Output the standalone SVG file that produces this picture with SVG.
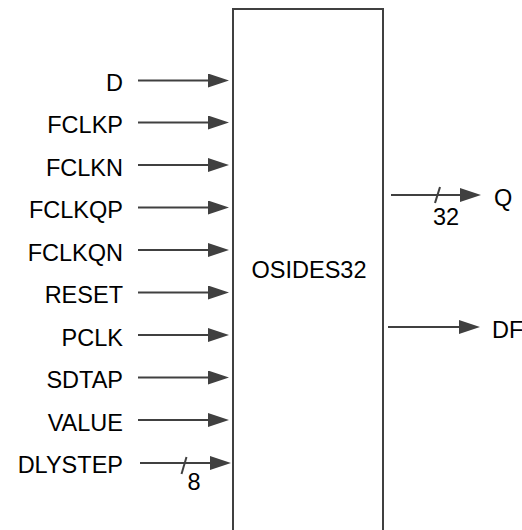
<svg xmlns="http://www.w3.org/2000/svg" width="522" height="530" viewBox="0 0 522 530">
<style>
text{font-family:"Liberation Sans",Arial,sans-serif;font-size:23.5px;fill:#000}
.lbl{text-anchor:end}
.w{stroke:#404040;stroke-width:2;fill:none}
.ah{fill:#404040}
</style>
<defs>
<marker id="arr" viewBox="0 0 21 14" refX="1" refY="7" markerWidth="21" markerHeight="14" markerUnits="userSpaceOnUse" orient="auto">
<path class="ah" d="M0,0 L21,7 L0,14 Z"/>
</marker>
</defs>
<rect width="522" height="530" fill="#fff"/>
<g id="OSIDES32">
<rect x="233" y="9" width="150" height="540" fill="#fff" stroke="#404040" stroke-width="2"/>
<text x="309" y="278" text-anchor="middle">OSIDES32</text>
</g>
<g id="labels">
<text class="lbl" x="123" y="91">D</text>
<text class="lbl" x="123" y="133">FCLKP</text>
<text class="lbl" x="123" y="176">FCLKN</text>
<text class="lbl" x="123" y="218">FCLKQP</text>
<text class="lbl" x="123" y="261">FCLKQN</text>
<text class="lbl" x="123" y="303">RESET</text>
<text class="lbl" x="123" y="346">PCLK</text>
<text class="lbl" x="123" y="388">SDTAP</text>
<text class="lbl" x="123" y="431">VALUE</text>
<text class="lbl" x="123" y="473">DLYSTEP</text>
<text x="494" y="206">Q</text>
<text x="492" y="338">DF</text>
<text x="194" y="490" text-anchor="middle">8</text>
<text x="446" y="225" text-anchor="middle">32</text>
</g>
<g id="connectors">
<line class="w" x1="138" y1="80.5" x2="209" y2="80.5" marker-end="url(#arr)"/>
<line class="w" x1="138" y1="122.5" x2="209" y2="122.5" marker-end="url(#arr)"/>
<line class="w" x1="138" y1="165" x2="209" y2="165" marker-end="url(#arr)"/>
<line class="w" x1="138" y1="207.5" x2="209" y2="207.5" marker-end="url(#arr)"/>
<line class="w" x1="138" y1="250" x2="209" y2="250" marker-end="url(#arr)"/>
<line class="w" x1="138" y1="292.5" x2="209" y2="292.5" marker-end="url(#arr)"/>
<line class="w" x1="138" y1="335" x2="209" y2="335" marker-end="url(#arr)"/>
<line class="w" x1="138" y1="377.5" x2="209" y2="377.5" marker-end="url(#arr)"/>
<line class="w" x1="138" y1="420" x2="209" y2="420" marker-end="url(#arr)"/>
<line class="w" x1="140" y1="463" x2="211" y2="463" marker-end="url(#arr)"/>
<line class="w" x1="181.5" y1="474" x2="186.5" y2="457" stroke-width="1.5"/>
<line class="w" x1="391" y1="195" x2="461" y2="195" marker-end="url(#arr)"/>
<line class="w" x1="435" y1="203" x2="440" y2="187" stroke-width="1.5"/>
<line class="w" x1="388" y1="327" x2="460" y2="327" marker-end="url(#arr)"/>
</g>
</svg>
